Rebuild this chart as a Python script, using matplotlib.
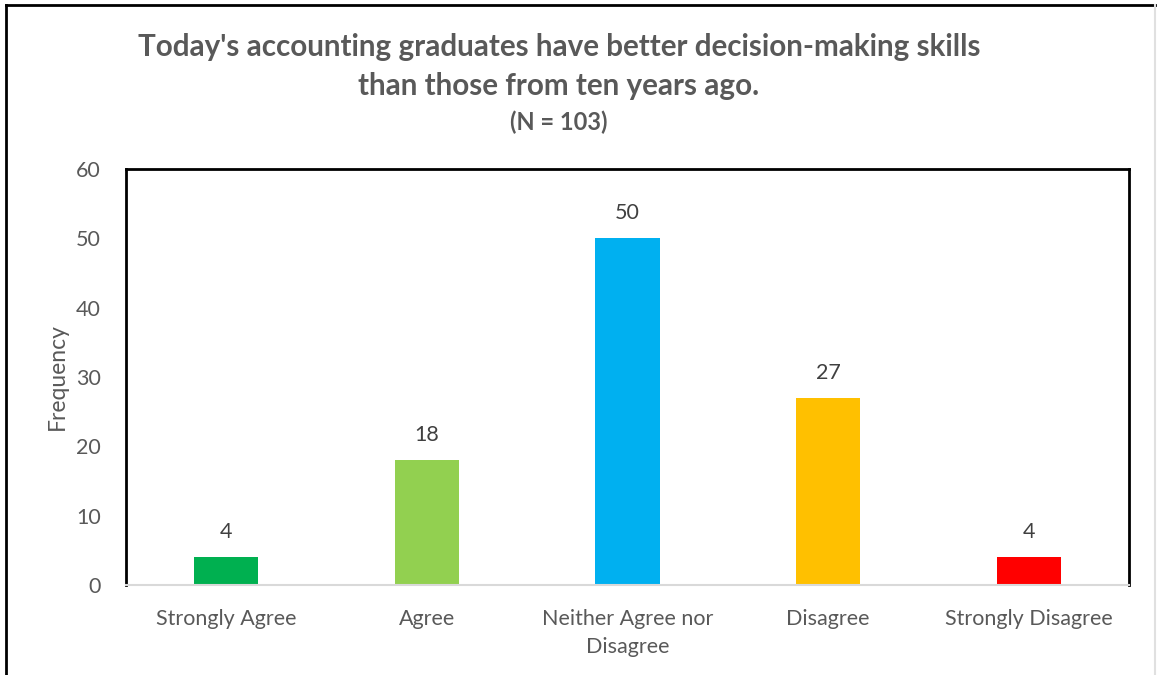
import numpy as np
import matplotlib.pyplot as plt
from matplotlib.lines import Line2D

# Survey responses
categories = ["Strongly Agree", "Agree", "Neither Agree nor\nDisagree", "Disagree", "Strongly Disagree"]
counts = [4, 18, 50, 27, 4]
colors = ["#00B050", "#92D050", "#00B0F0", "#FFC000", "#FF0000"]

plt.rcParams['font.family'] = ['Lato', 'DejaVu Sans']
grey = "#595959"

fig = plt.figure(figsize=(11.57, 6.75), dpi=100)
ax = fig.add_axes([126/1157, 1 - 585/675, (1129-126)/1157, (585-169)/675])

x = np.arange(len(categories))
bars = ax.bar(x, counts, width=0.32, color=colors, zorder=2)
for xi, v in zip(x, counts):
    ax.text(xi, v + 3.6, str(v), ha='center', va='center', fontsize=15.5, color='#404040')

ax.set_xlim(-0.5, len(categories) - 0.5)
ax.set_ylim(0, 60)
ax.set_yticks(range(0, 61, 10))
ax.set_xticks(x)
ax.set_xticklabels(categories, fontsize=15.5, color=grey, linespacing=1.55)
ax.tick_params(axis='y', labelsize=15.5, labelcolor=grey, length=0, pad=18)
ax.tick_params(axis='x', length=0, pad=17)
ax.set_ylabel("Frequency", fontsize=16.5, color=grey, labelpad=6)

for side in ['left', 'top', 'right']:
    ax.spines[side].set_color('black')
    ax.spines[side].set_linewidth(2)
ax.spines['bottom'].set_color('#d9d9d9')
ax.spines['bottom'].set_linewidth(1.5)

fig.text(0.483, 1 - 47/675, "Today's accounting graduates have better decision-making skills",
         ha='center', va='center', fontsize=21.3, fontweight='bold', color=grey)
fig.text(0.483, 1 - 86/675, "than those from ten years ago.",
         ha='center', va='center', fontsize=21.3, fontweight='bold', color=grey)
fig.text(0.483, 1 - 122/675, "(N = 103)",
         ha='center', va='center', fontsize=17, fontweight='bold', color=grey)

# outer frame: dark on left/top, faint on the right
fx0, fx1, fy1 = 6/1157, 1155/1157, 1 - 5/675
fig.add_artist(Line2D([fx0, fx0], [0, fy1], transform=fig.transFigure, color='black', lw=2))
fig.add_artist(Line2D([fx0, fx1], [fy1, fy1], transform=fig.transFigure, color='black', lw=2))
fig.add_artist(Line2D([fx1, fx1], [0, fy1], transform=fig.transFigure, color='#e0e0e0', lw=1.5))

fig.savefig("out.png", dpi=100)
